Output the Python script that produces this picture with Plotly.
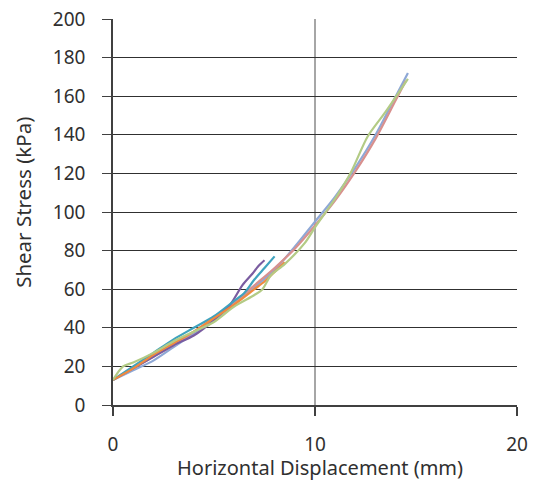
import plotly.graph_objects as go

# Shear stress vs horizontal displacement, six direct shear tests
blue_x = [0, 1, 2, 3, 4, 5, 6, 7, 8, 9, 10, 11, 12, 13, 14, 14.6]
blue_y = [13, 18, 23, 30, 37, 44, 52, 61, 70, 82, 95, 108, 123, 140, 160, 172]

red_x = [0, 1, 2, 3, 4, 5, 6, 7, 8, 9, 10, 11, 12, 13, 14, 14.5]
red_y = [13, 19, 25, 31, 38, 45, 53, 62, 71, 81, 93, 106, 121, 138, 158, 168]

green_x = [0, 0.5, 1, 2, 3, 4, 5, 6, 7, 7.4, 7.8, 8.5, 9.5, 10, 11, 11.8, 12.6, 13.5, 14.6]
green_y = [13, 20, 22, 27, 33, 38, 43, 51, 57, 60, 67, 73, 84, 92, 107, 121, 139, 152, 169]

purple_x = [0, 1, 2, 3, 4, 5, 5.8, 6.4, 6.9, 7.2, 7.5]
purple_y = [13, 19, 25, 31, 36, 44, 52, 62, 68, 72, 75]

teal_x = [0, 1, 2, 3, 4, 5, 6, 6.5, 7, 7.5, 8]
teal_y = [13, 20, 27, 34, 40, 46, 54, 58, 65, 71, 77]

orange_x = [0, 1, 2, 3, 4, 5, 6, 7, 7.5, 8, 8.5]
orange_y = [13, 19, 26, 32, 38, 45, 52, 60, 64, 69, 74]

y_ticks = [0, 20, 40, 60, 80, 100, 120, 140, 160, 180, 200]
x_ticks = [0, 10, 20]

x_title = "Horizontal Displacement (mm)"
y_title = "Shear Stress (kPa)"

series = [
    (blue_x, blue_y, "#8EA8D6"),
    (red_x, red_y, "#D8908E"),
    (purple_x, purple_y, "#7A5CA0"),
    (teal_x, teal_y, "#3FA3BE"),
    (orange_x, orange_y, "#F08A3E"),
    (green_x, green_y, "#B3CB85"),
]

fig = go.Figure()
for xs, ys, color in series:
    fig.add_trace(go.Scatter(
        x=xs, y=ys, mode="lines",
        line=dict(color=color, width=2.2, shape="spline", smoothing=0.8),
        showlegend=False, hoverinfo="skip",
    ))

font = dict(family="Noto Sans, Open Sans, sans-serif", size=19, color="#303030")

fig.update_layout(
    width=537, height=493,
    margin=dict(l=113, r=20, t=19, b=88, autoexpand=False),
    paper_bgcolor="white", plot_bgcolor="white",
    font=font,
)
fig.update_xaxes(
    range=[0, 20], tickvals=x_ticks, ticktext=[str(v) for v in x_ticks],
    showgrid=True, gridcolor="#A6A6A6", gridwidth=1.5,
    showline=True, linecolor="#404040", linewidth=1.5,
    ticks="outside", ticklen=9, tickcolor="#404040", tickwidth=1.5,
    ticklabelstandoff=12, automargin=False,
    zeroline=False,
)
fig.update_yaxes(
    range=[0, 200], tickvals=y_ticks, ticktext=[str(v) for v in y_ticks],
    showgrid=True, gridcolor="#303030", gridwidth=1,
    showline=True, linecolor="#404040", linewidth=1.5,
    ticks="outside", ticklen=9, tickcolor="#404040", tickwidth=1,
    ticklabelstandoff=13, automargin=False,
    zeroline=False,
)

# axis titles placed as annotations in paper coordinates
fig.add_annotation(
    text=x_title, xref="paper", yref="paper", x=0.512, y=-0.163,
    showarrow=False, xanchor="center", yanchor="middle",
    font=dict(size=20),
)
fig.add_annotation(
    text=y_title, xref="paper", yref="paper", x=-0.223, y=0.526,
    showarrow=False, xanchor="center", yanchor="middle", textangle=-90,
    font=dict(size=20.5),
)

fig.write_html("out.html")
